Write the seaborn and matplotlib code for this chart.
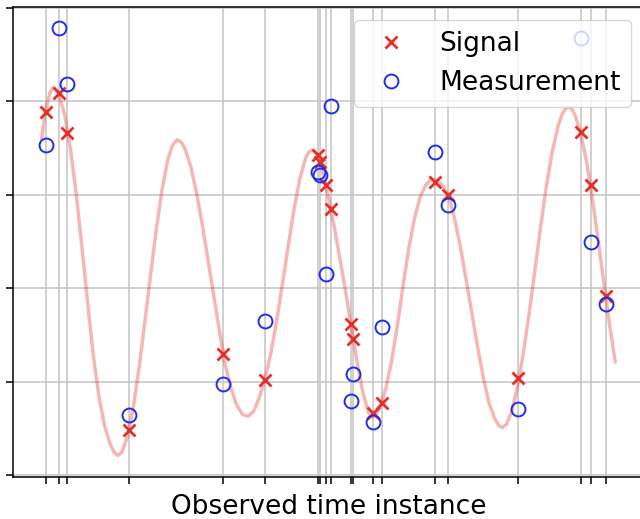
import numpy as np
import matplotlib
matplotlib.use("Agg")
import matplotlib.pyplot as plt
import seaborn as sns

# sample times (where signal / measurements were taken)
sample_t = [0.07, 0.30, 0.45, 1.52, 3.16, 3.89, 4.82, 4.85, 4.96, 5.04,
            5.39, 5.43, 5.78, 5.93, 6.86, 7.09, 8.31, 9.41, 9.58, 9.84]
signal_y = [1.89, 2.09, 1.66, -1.52, -0.70, -0.98, 1.43, 1.35, 1.10, 0.85,
            -0.38, -0.54, -1.34, -1.23, 1.14, 1.00, -0.96, 1.67, 1.10, -0.08]
measure_y = [1.53, 2.78, 2.19, -1.36, -1.03, -0.35, 1.24, 1.21, 0.15, 1.95,
             -1.21, -0.92, -1.43, -0.41, 1.46, 0.89, -1.29, 2.68, 0.49, -0.17]

# underlying smooth curve
curve_t = [0.00, 0.05, 0.10, 0.15, 0.20, 0.25, 0.30, 0.40, 0.50, 0.60,
           0.70, 0.80, 0.90, 1.00, 1.10, 1.20, 1.27, 1.33, 1.40, 1.50,
           1.60, 1.70, 1.80, 1.90, 2.00, 2.10, 2.20, 2.28, 2.36, 2.44,
           2.50, 2.60, 2.70, 2.80, 2.90, 3.00, 3.10, 3.20, 3.30, 3.40,
           3.50, 3.60, 3.70, 3.80, 3.90, 4.00, 4.10, 4.20, 4.30, 4.40,
           4.50, 4.60, 4.66, 4.72, 4.80, 4.90, 5.00, 5.10, 5.20, 5.30,
           5.40, 5.50, 5.60, 5.70, 5.76, 5.82, 5.90, 6.00, 6.10, 6.20,
           6.30, 6.40, 6.50, 6.60, 6.70, 6.78, 6.86, 6.94, 7.00, 7.10,
           7.20, 7.30, 7.40, 7.50, 7.60, 7.70, 7.80, 7.90, 7.97, 8.03,
           8.10, 8.20, 8.30, 8.40, 8.50, 8.60, 8.70, 8.80, 8.90, 9.00,
           9.07, 9.13, 9.19, 9.25, 9.30, 9.40, 9.50, 9.60, 9.70, 9.80,
           9.90, 10.00]
curve_y = [1.60, 1.83, 1.99, 2.10, 2.15, 2.13, 2.08, 1.86, 1.50, 1.02,
           0.45, -0.15, -0.72, -1.17, -1.48, -1.68, -1.76, -1.79, -1.75, -1.58,
           -1.26, -0.84, -0.35, 0.15, 0.64, 1.06, 1.38, 1.53, 1.59, 1.56,
           1.49, 1.30, 1.02, 0.68, 0.30, -0.08, -0.46, -0.82, -1.07, -1.25,
           -1.35, -1.37, -1.31, -1.16, -0.95, -0.68, -0.33, 0.06, 0.46, 0.85,
           1.17, 1.39, 1.46, 1.48, 1.44, 1.24, 0.97, 0.66, 0.31, -0.04,
           -0.42, -0.80, -1.12, -1.33, -1.38, -1.36, -1.27, -1.07, -0.78, -0.40,
           0.03, 0.43, 0.75, 0.98, 1.11, 1.16, 1.16, 1.13, 1.09, 0.98,
           0.74, 0.44, 0.09, -0.27, -0.63, -0.96, -1.23, -1.40, -1.47, -1.49,
           -1.46, -1.31, -1.04, -0.68, -0.26, 0.20, 0.67, 1.10, 1.46, 1.73,
           1.86, 1.92, 1.94, 1.91, 1.85, 1.65, 1.35, 0.96, 0.52, 0.06,
           -0.39, -0.79]

y_ticks = [-2, -1, 0, 1, 2, 3]

sns.set_style("ticks")
plt.rcParams['font.family'] = ['DejaVu Sans']
plt.rcParams['text.color'] = 'black'
plt.rcParams['axes.labelcolor'] = 'black'

fig = plt.figure(figsize=(6.40, 5.19), dpi=100)
ax = fig.add_axes([13 / 640, 42 / 519, 631 / 640, 470 / 519])

sns.lineplot(x=curve_t, y=curve_y, ax=ax, color='#e8302a', alpha=0.35,
             linewidth=2.5, estimator=None, sort=False)
sns.lineplot(x=sample_t, y=signal_y, ax=ax, color='#e3302a', marker='x',
             linestyle='', markersize=9, mew=2.0, mec='#e3302a',
             estimator=None, sort=False, label='Signal')
sns.lineplot(x=sample_t, y=measure_y, ax=ax, color='#1f2ee8', marker='o',
             linestyle='', markersize=10, mew=1.4, mec='#1f2ee8', mfc='none',
             estimator=None, sort=False, label='Measurement')

ax.set_xlim(-0.5, 10.5)
ax.set_ylim(-2.02, 3.01)
ax.set_xticks(sample_t)
ax.set_xticklabels([])
ax.set_yticks(y_ticks)
ax.set_yticklabels([])
ax.grid(True, color='#c4c4c4', linewidth=1.1)
ax.set_axisbelow(True)
for s in ax.spines.values():
    s.set_linewidth(1.1)
    s.set_color('black')
ax.tick_params(length=5, width=1.1, color='black')
ax.set_xlabel('Observed time instance', fontsize=19, labelpad=4, color='black')
ax.set_ylabel('')
leg = ax.legend(loc='upper right', fontsize=19)
for txt in leg.get_texts():
    txt.set_color('black')

fig.savefig('out.png', dpi=100)
